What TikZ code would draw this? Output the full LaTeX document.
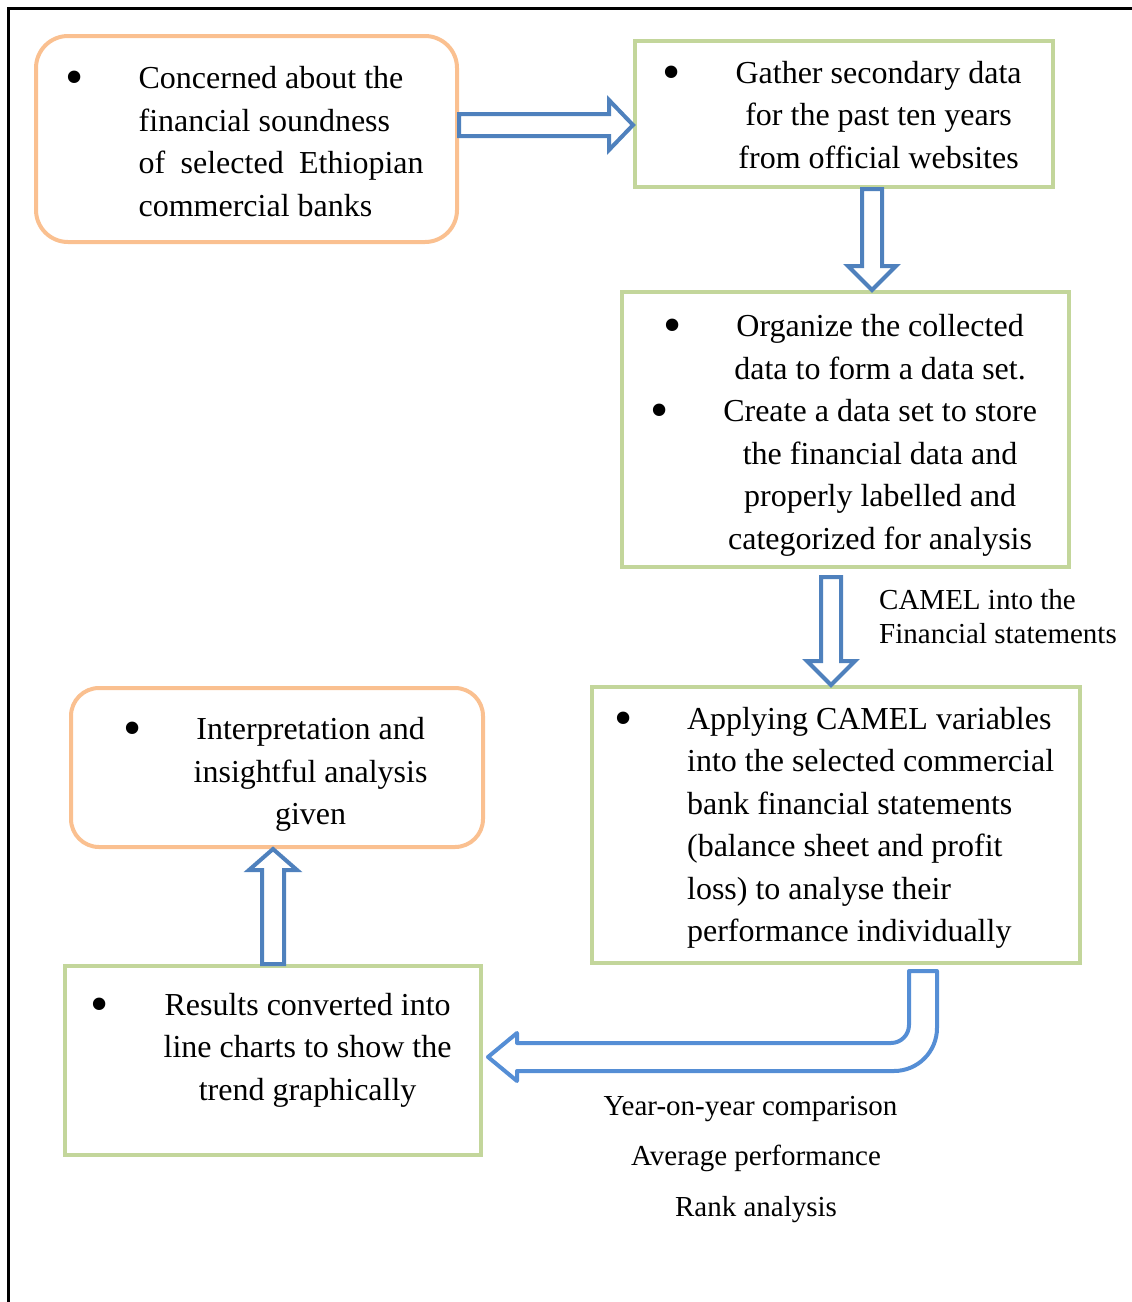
\documentclass[tikz,border=0pt]{standalone}
\usepackage{fontspec}
\setmainfont{Liberation Serif}
\usetikzlibrary{calc}

\definecolor{boxorange}{HTML}{FAC090}
\definecolor{boxgreen}{HTML}{C3D69B}
\definecolor{arrowblue}{HTML}{4F81BD}
\definecolor{bendblue}{HTML}{558ED5}

\tikzset{
  roundbox/.style={draw=boxorange, line width=4pt, rounded corners=32pt, inner sep=0pt,
    font=\fontsize{32}{42.5}\selectfont},
  greenbox/.style={draw=boxgreen, line width=4pt, inner sep=0pt,
    font=\fontsize{32}{42.5}\selectfont},
  blockarrow/.style={draw=arrowblue, line width=4pt, fill=white},
  lbl/.style={inner sep=0pt, font=\fontsize{29}{34}\selectfont}
}

% big bullet, same width as a normal one
\newcommand{\bul}{\makebox[11.2pt]{\raisebox{-6pt}{\fontsize{52}{0}\selectfont\textbullet}}}
% box text: shift down, column spec, rows
\newcommand{\boxtext}[3]{\raisebox{-#1pt}[\height][\depth]{\begin{tabular}{#2}#3\end{tabular}}}

% from, to, half shaft, half head, head length
\newcommand{\hollowarrow}[5]{%
  \draw[blockarrow] let \p1=(#1), \p2=(#2),
    \n1={atan2(\y2-\y1,\x2-\x1)}, \n2={veclen(\x2-\x1,\y2-\y1)} in
    [shift={(\p1)}, rotate=\n1]
    (0pt,#3pt) -- ({(\n2-#5)*1pt},#3pt) -- ({(\n2-#5)*1pt},#4pt)
    -- ({\n2*1pt},0pt) -- ({(\n2-#5)*1pt},-#4pt) -- ({(\n2-#5)*1pt},-#3pt)
    -- (0pt,-#3pt) -- cycle;}

\begin{document}
\begin{tikzpicture}[x=1pt, y=-1pt]
\useasboundingbox (0,0) rectangle (1132,1302);
% frame
\draw[line width=3pt] (8,1302) -- (8,8) -- (1132,8);
% boxes
\node[roundbox, minimum width=421pt, minimum height=206pt] (concern) at (246.5,139)
  {\boxtext{5}{@{}l@{\hspace{58pt}}l@{}}{
   \bul & Concerned about the\\
   & financial soundness\\
   & \makebox[285pt][s]{of selected Ethiopian}\\
   & commercial banks}};
\node[greenbox, minimum width=418pt, minimum height=146pt] (gather) at (844,114)
  {\boxtext{3}{@{}l@{\hspace{58pt}}c@{}}{
   \bul & Gather secondary data\\
   & for the past ten years\\
   & from official websites}};
\node[greenbox, minimum width=447pt, minimum height=275pt] (organize) at (845.5,429.5)
  {\boxtext{5}{@{}l@{\hspace{45pt}}c@{}}{
   \hspace{13pt}\bul & Organize the collected\\
   & data to form a data set.\\
   \bul & Create a data set to store\\
   & the financial data and\\
   & properly labelled and\\
   & categorized for analysis}};
\node[greenbox, minimum width=488pt, minimum height=276pt] (apply) at (836,825)
  {\boxtext{2}{@{}l@{\hspace{58pt}}l@{}}{
   \bul & Applying CAMEL variables\\
   & into the selected commercial\\
   & bank financial statements\\
   & (balance sheet and profit\\
   & loss) to analyse their\\
   & performance individually}};
\node[roundbox, rounded corners=28pt, minimum width=412pt, minimum height=159pt] (interpret) at (277,767.5)
  {\boxtext{6}{@{}l@{\hspace{56pt}}c@{}}{
   \bul & Interpretation and\\
   & insightful analysis\\
   & given}};
\node[greenbox, minimum width=416pt, minimum height=189pt] (results) at (273,1060.5)
  {\boxtext{2}{@{}l@{\hspace{58pt}}c@{}}{
   \bul & Results converted into\\
   & line charts to show the\\
   & trend graphically\\[27pt]}};
% arrows
\hollowarrow{concern.east |- 0,125}{gather.west |- 0,125}{11}{25}{24}
\hollowarrow{gather.south -| 872,0}{organize.north -| 872,0}{10}{24}{24}
\hollowarrow{$(organize.south -| 831,0)+(0,8)$}{apply.north -| 831,0}{10}{24}{24}
\hollowarrow{results.north -| 273,0}{interpret.south -| 273,0}{11}{24}{21}
\draw[blockarrow, draw=bendblue, line join=round]
  let \p1=($(apply.south -| 923,0)+(0,6)$), \p2=($(results.east |- 0,1057)+(5,0)$) in
  (\x1-14pt,\y1) -- (\x1+14pt,\y1) -- (\x1+14pt,\y2+29pt)
  arc[start angle=0, end angle=-90, radius=43pt]
  -- (\x2+29pt,\y2-14pt) -- (\x2+29pt,\y2-24pt) -- (\x2,\y2)
  -- (\x2+29pt,\y2+24pt) -- (\x2+29pt,\y2+14pt) -- (\x1-32pt,\y2+14pt)
  arc[start angle=-90, end angle=0, radius=18pt] -- cycle;
% labels
\node[lbl, align=left, anchor=north west] (camellbl) at (879,589)
  {CAMEL into the\\Financial statements};
\node[lbl, align=center, anchor=north, font=\fontsize{29}{50.5}\selectfont] (complbl) at (756,1096)
  {Year-on-year comparison\kern11pt\\Average performance\\Rank analysis};
\end{tikzpicture}
\end{document}
